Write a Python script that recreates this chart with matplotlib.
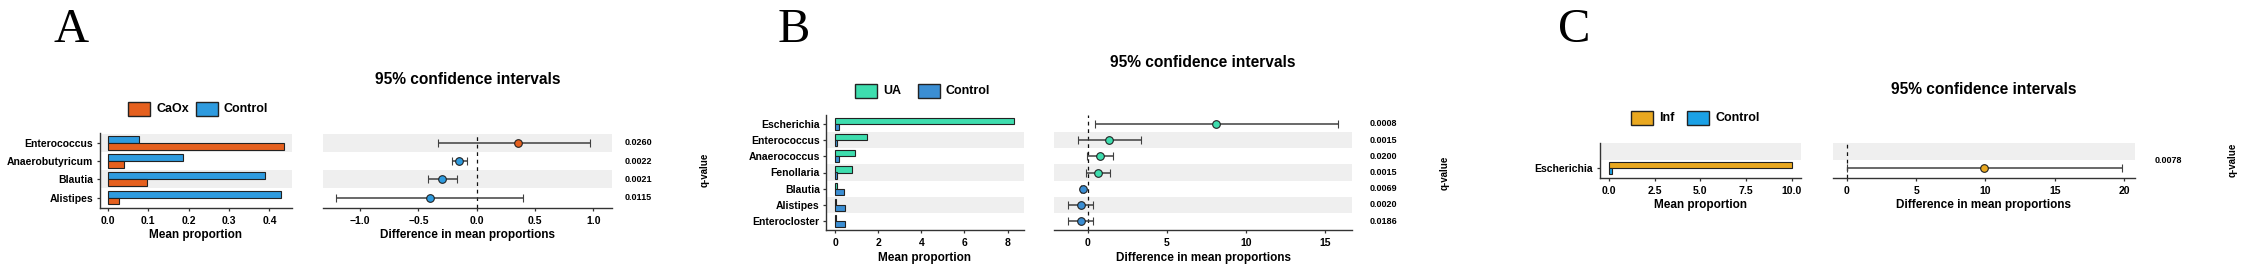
import matplotlib
matplotlib.use("Agg")
import matplotlib.pyplot as plt
import matplotlib.transforms as mtransforms
from matplotlib.patches import Rectangle

plt.rcParams['font.family'] = ['Liberation Sans', 'DejaVu Sans']
plt.rcParams['font.weight'] = 'bold'
plt.rcParams['axes.labelweight'] = 'bold'

# ---------------- data ----------------
# Panel A: CaOx vs Control
a_taxa = ["Enterococcus", "Anaerobutyricum", "Blautia", "Alistipes"]
a_case = [0.436, 0.040, 0.097, 0.028]
a_ctrl = [0.076, 0.187, 0.390, 0.428]
a_diff = [0.357, -0.149, -0.300, -0.400]
a_lo = [-0.335, -0.215, -0.420, -1.208]
a_hi = [0.967, -0.086, -0.172, 0.400]
a_q = ["0.0260", "0.0022", "0.0021", "0.0115"]

# Panel B: UA vs Control
b_taxa = ["Escherichia", "Enterococcus", "Anaerococcus", "Fenollaria",
          "Blautia", "Alistipes", "Enterocloster"]
b_case = [8.32, 1.49, 0.94, 0.77, 0.11, 0.03, 0.03]
b_ctrl = [0.17, 0.08, 0.17, 0.11, 0.42, 0.45, 0.45]
b_diff = [8.10, 1.37, 0.78, 0.63, -0.32, -0.44, -0.44]
b_lo = [0.46, -0.59, -0.04, -0.10, -0.42, -1.22, -1.22]
b_hi = [15.77, 3.35, 1.58, 1.41, -0.22, 0.36, 0.36]
b_q = ["0.0008", "0.0015", "0.0200", "0.0015", "0.0069", "0.0020", "0.0186"]

# Panel C: Inf vs Control
c_taxa = ["Escherichia"]
c_case = [10.03]
c_ctrl = [0.16]
c_diff = [9.92]
c_lo = [0.0]
c_hi = [19.81]
c_q = ["0.0078"]

W, H = 2246, 270
fig = plt.figure(figsize=(W / 100, H / 100), dpi=100)


def rect(x0, y0, x1, y1):
    return [x0 / W, 1 - y1 / H, (x1 - x0) / W, (y1 - y0) / H]


def fx(x):
    return x / W


def fy(y):
    return 1 - y / H


def style_axis(ax):
    for s in ["top", "right"]:
        ax.spines[s].set_visible(False)
    for s in ["left", "bottom"]:
        ax.spines[s].set_color("#333333")
        ax.spines[s].set_linewidth(1.0)
    ax.tick_params(axis="both", length=2.5, width=0.9, color="#333333",
                   labelsize=7.5, pad=2)
    ax.tick_params(axis="x", pad=3.5)


def panel(letter, groups, colors, taxa, case, ctrl, diff, lo, hi, qv,
          L, q_yoff=0.0, ctrl_on_top=False):
    n = len(taxa)
    ys = list(range(n, 0, -1))  # first taxon on top

    # letter
    fig.text(fx(L["letter"][0]), fy(L["letter"][1]), letter,
             family="Liberation Serif", weight="normal", fontsize=35,
             va="baseline", ha="left")

    # bar chart
    ax1 = fig.add_axes(rect(*L["bars"]))
    style_axis(ax1)
    for y in range(2, int(L["ylim"][1]) + 1, 2):
        ax1.axhspan(y - 0.5, y + 0.5, color="#efefef", lw=0, zorder=0)
    top_v, bot_v = (ctrl, case) if ctrl_on_top else (case, ctrl)
    top_c, bot_c = (colors[1], colors[0]) if ctrl_on_top else (colors[0], colors[1])
    ax1.barh([y + 0.19 for y in ys], top_v, height=0.38, color=top_c,
             edgecolor="#222222", linewidth=0.8, zorder=2)
    ax1.barh([y - 0.19 for y in ys], bot_v, height=0.38, color=bot_c,
             edgecolor="#222222", linewidth=0.8, zorder=2)
    ax1.set_yticks(ys)
    ax1.set_yticklabels(taxa)
    ax1.set_xticks(L["xt1"])
    ax1.set_xticklabels(L["xl1"])
    ax1.set_xlim(*L["xlim1"])
    ax1.set_ylim(*L["ylim"])
    ax1.set_xlabel("Mean proportion", fontsize=8.5, labelpad=2.5)

    # confidence intervals
    ax2 = fig.add_axes(rect(*L["ci"]))
    style_axis(ax2)
    ax2.spines["left"].set_visible(False)
    ax2.tick_params(axis="y", left=False, labelleft=False)
    for y in range(2, int(L["ylim"][1]) + 1, 2):
        ax2.axhspan(y - 0.5, y + 0.5, color="#efefef", lw=0, zorder=0)
    ax2.axvline(0, color="#111111", ls=(0, (3, 3)), lw=0.9, zorder=1)
    for y, d, l, h in zip(ys, diff, lo, hi):
        c = colors[0] if d > 0 else colors[1]
        ax2.errorbar([d], [y], xerr=[[d - l], [h - d]], fmt="o", ms=5.5,
                     mfc=c, mec="#222222", mew=0.8, ecolor="#404040",
                     elinewidth=1.1, capsize=2.6, capthick=1.1, zorder=3)
    ax2.set_xticks(L["xt2"])
    ax2.set_xlim(*L["xlim2"])
    ax2.set_ylim(*L["ylim"])
    ax2.set_xlabel("Difference in mean proportions", fontsize=8.5, labelpad=2.5)

    # q-values
    tr = mtransforms.blended_transform_factory(fig.transFigure, ax2.transData)
    for y, q in zip(ys, qv):
        fig.text(fx(L["qx"]), y + q_yoff, q, transform=tr, fontsize=6.5,
                 va="center", ha="left")
    fig.text(fx(L["qlab"][0]), fy(L["qlab"][1]), "q-value", rotation=90,
             fontsize=7, ha="center", va="center")

    # title
    x0, _, x1, _ = L["ci"]
    fig.text(fx((x0 + x1) / 2), fy(L["title_y"]), "95% confidence intervals",
             fontsize=11.2, ha="center", va="center")

    # legend
    lx, ly = L["leg"]
    px = lx
    for i, (g, c) in enumerate(zip(groups, colors)):
        fig.patches.append(Rectangle((fx(px), fy(ly + 7)), 22 / W, 14 / H,
                                     transform=fig.transFigure, facecolor=c,
                                     edgecolor="#222222", lw=1.0))
        fig.text(fx(px + 28), fy(ly), g, fontsize=9, va="center", ha="left")
        px += L["leg_step"][i]


panel("A", ["CaOx", "Control"], ["#e5601e", "#2e9bdf"],
      a_taxa, a_case, a_ctrl, a_diff, a_lo, a_hi, a_q,
      dict(letter=(54, 42), bars=(99.5, 133, 292, 207.5),
           ci=(323, 133, 612, 207.5), ylim=(0.45, 4.55),
           xlim1=(-0.021, 0.456), xt1=[0, 0.1, 0.2, 0.3, 0.4],
           xl1=["0.0", "0.1", "0.2", "0.3", "0.4"],
           xlim2=(-1.317, 1.159), xt2=[-1.0, -0.5, 0.0, 0.5, 1.0],
           qx=625, qlab=(705, 170), title_y=80, leg=(128, 109),
           leg_step=[68, 0]),
      ctrl_on_top=True)

panel("B", ["UA", "Control"], ["#3eddae", "#3b8ed3"],
      b_taxa, b_case, b_ctrl, b_diff, b_lo, b_hi, b_q,
      dict(letter=(778, 42), bars=(826, 115, 1023.5, 230),
           ci=(1054, 115, 1352, 230), ylim=(0.45, 7.55),
           xlim1=(-0.42, 8.74), xt1=[0, 2, 4, 6, 8],
           xl1=["0", "2", "4", "6", "8"],
           xlim2=(-2.13, 16.68), xt2=[0, 5, 10, 15],
           qx=1370, qlab=(1445, 173), title_y=62.5, leg=(855, 91),
           leg_step=[63, 0]))

panel("C", ["Inf", "Control"], ["#e9a820", "#1ba1e6"],
      c_taxa, c_case, c_ctrl, c_diff, c_lo, c_hi, c_q,
      dict(letter=(1558, 42), bars=(1599.5, 142.7, 1801, 177.5),
           ci=(1833, 142.7, 2135, 177.5), ylim=(0.44, 2.5),
           xlim1=(-0.51, 10.5), xt1=[0, 2.5, 5, 7.5, 10],
           xl1=["0.0", "2.5", "5.0", "7.5", "10.0"],
           xlim2=(-0.99, 20.78), xt2=[0, 5, 10, 15, 20],
           qx=2155, qlab=(2233, 160), title_y=90, leg=(1631, 118),
           leg_step=[56, 0]),
      q_yoff=0.44)

plt.savefig("out.png", dpi=100)
